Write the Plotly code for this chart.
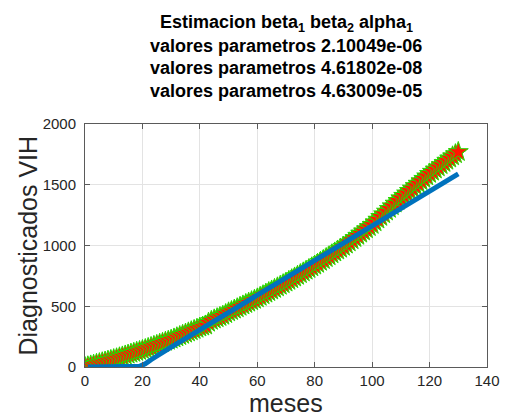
import plotly.graph_objects as go

months = list(range(0, 131))
diagnosed = [
    0, 6, 13, 19, 26, 32, 39, 45, 52, 58,
    65, 72, 80, 87, 95, 102, 110, 117, 125, 132,
    140, 148, 157, 165, 174, 182, 191, 199, 208, 216,
    225, 235, 245, 255, 265, 275, 285, 295, 305, 315,
    325, 333, 342, 365, 380, 392, 402, 412, 422, 436,
    450, 461, 473, 484, 496, 507, 519, 530, 542, 553,
    565, 578, 591, 604, 617, 630, 643, 656, 669, 682,
    695, 709, 723, 737, 751, 765, 779, 793, 807, 821,
    835, 850, 866, 881, 897, 912, 928, 943, 959, 974,
    990, 1008, 1026, 1044, 1062, 1080, 1098, 1116, 1134, 1152,
    1170, 1192, 1214, 1236, 1258, 1280, 1302, 1324, 1346, 1368,
    1390, 1410, 1430, 1450, 1470, 1490, 1510, 1530, 1550, 1570,
    1590, 1608, 1626, 1644, 1662, 1680, 1698, 1716, 1734, 1752,
    1770,
]
model_x = [1, 10, 17, 19, 21, 23, 30, 40, 50, 60, 70, 80, 90, 100, 110, 120, 130]
model_y = [0, 0, 0, 6, 26, 60, 163, 305, 448, 591, 733, 876, 1019, 1162, 1304, 1447, 1590]

title_lines = [
    "Estimacion beta<sub>1</sub> beta<sub>2</sub> alpha<sub>1</sub>",
    "valores parametros 2.10049e-06",
    "valores parametros 4.61802e-08",
    "valores parametros 4.63009e-05",
]
x_ticks = [0, 20, 40, 60, 80, 100, 120, 140]
y_ticks = [0, 500, 1000, 1500, 2000]

fig = go.Figure()
fig.add_trace(go.Scatter(x=months, y=diagnosed, mode="markers",
                         marker=dict(symbol="star", size=15, color="#ff1a00",
                                     line=dict(width=1, color="#22dd00")),
                         showlegend=False))
fig.add_trace(go.Scatter(x=model_x, y=model_y, mode="lines",
                         line=dict(color="#0072bd", width=5),
                         showlegend=False))

axis_common = dict(showgrid=True, gridcolor="#e3e3e3", gridwidth=1,
                   showline=True, linecolor="#5a5a5a", linewidth=1,
                   mirror="ticks", ticks="inside", ticklen=5,
                   tickcolor="#5a5a5a", zeroline=False,
                   tickfont=dict(family="Liberation Sans, Arial", size=15, color="#262626"))

fig.update_xaxes(range=[0, 140], tickvals=x_ticks, **axis_common)
fig.update_yaxes(range=[0, 2000], tickvals=y_ticks, ticklabelstandoff=5, **axis_common)

annotations = []
for i, t in enumerate(title_lines):
    annotations.append(dict(text="<b>" + t + "</b>", xref="paper", yref="paper",
                            x=0.5, y=1, yshift=101 - i * 22.5, showarrow=False,
                            xanchor="center", yanchor="middle",
                            font=dict(family="Liberation Sans, Arial", size=18, color="#000000")))
annotations.append(dict(text="meses", xref="paper", yref="paper", x=0.5, y=0,
                        yshift=-36, showarrow=False, xanchor="center", yanchor="middle",
                        font=dict(family="Liberation Sans, Arial", size=25, color="#262626")))
annotations.append(dict(text="Diagnosticados VIH", xref="paper", yref="paper", x=0, y=0.5,
                        xshift=-58, showarrow=False, xanchor="center", yanchor="middle",
                        textangle=-90,
                        font=dict(family="Liberation Sans, Arial", size=25, color="#262626")))

fig.update_layout(width=512, height=414, margin=dict(l=85, r=14, t=124, b=47),
                  plot_bgcolor="white", paper_bgcolor="white",
                  annotations=annotations)
fig.write_html("out.html", config={"displayModeBar": False})

with open("out.html", "r", encoding="utf-8") as f:
    html = f.read()
html = html.replace("<head>", "<head><style>html,body{margin:0;padding:0;overflow:hidden;}</style>", 1)
with open("out.html", "w", encoding="utf-8") as f:
    f.write(html)
